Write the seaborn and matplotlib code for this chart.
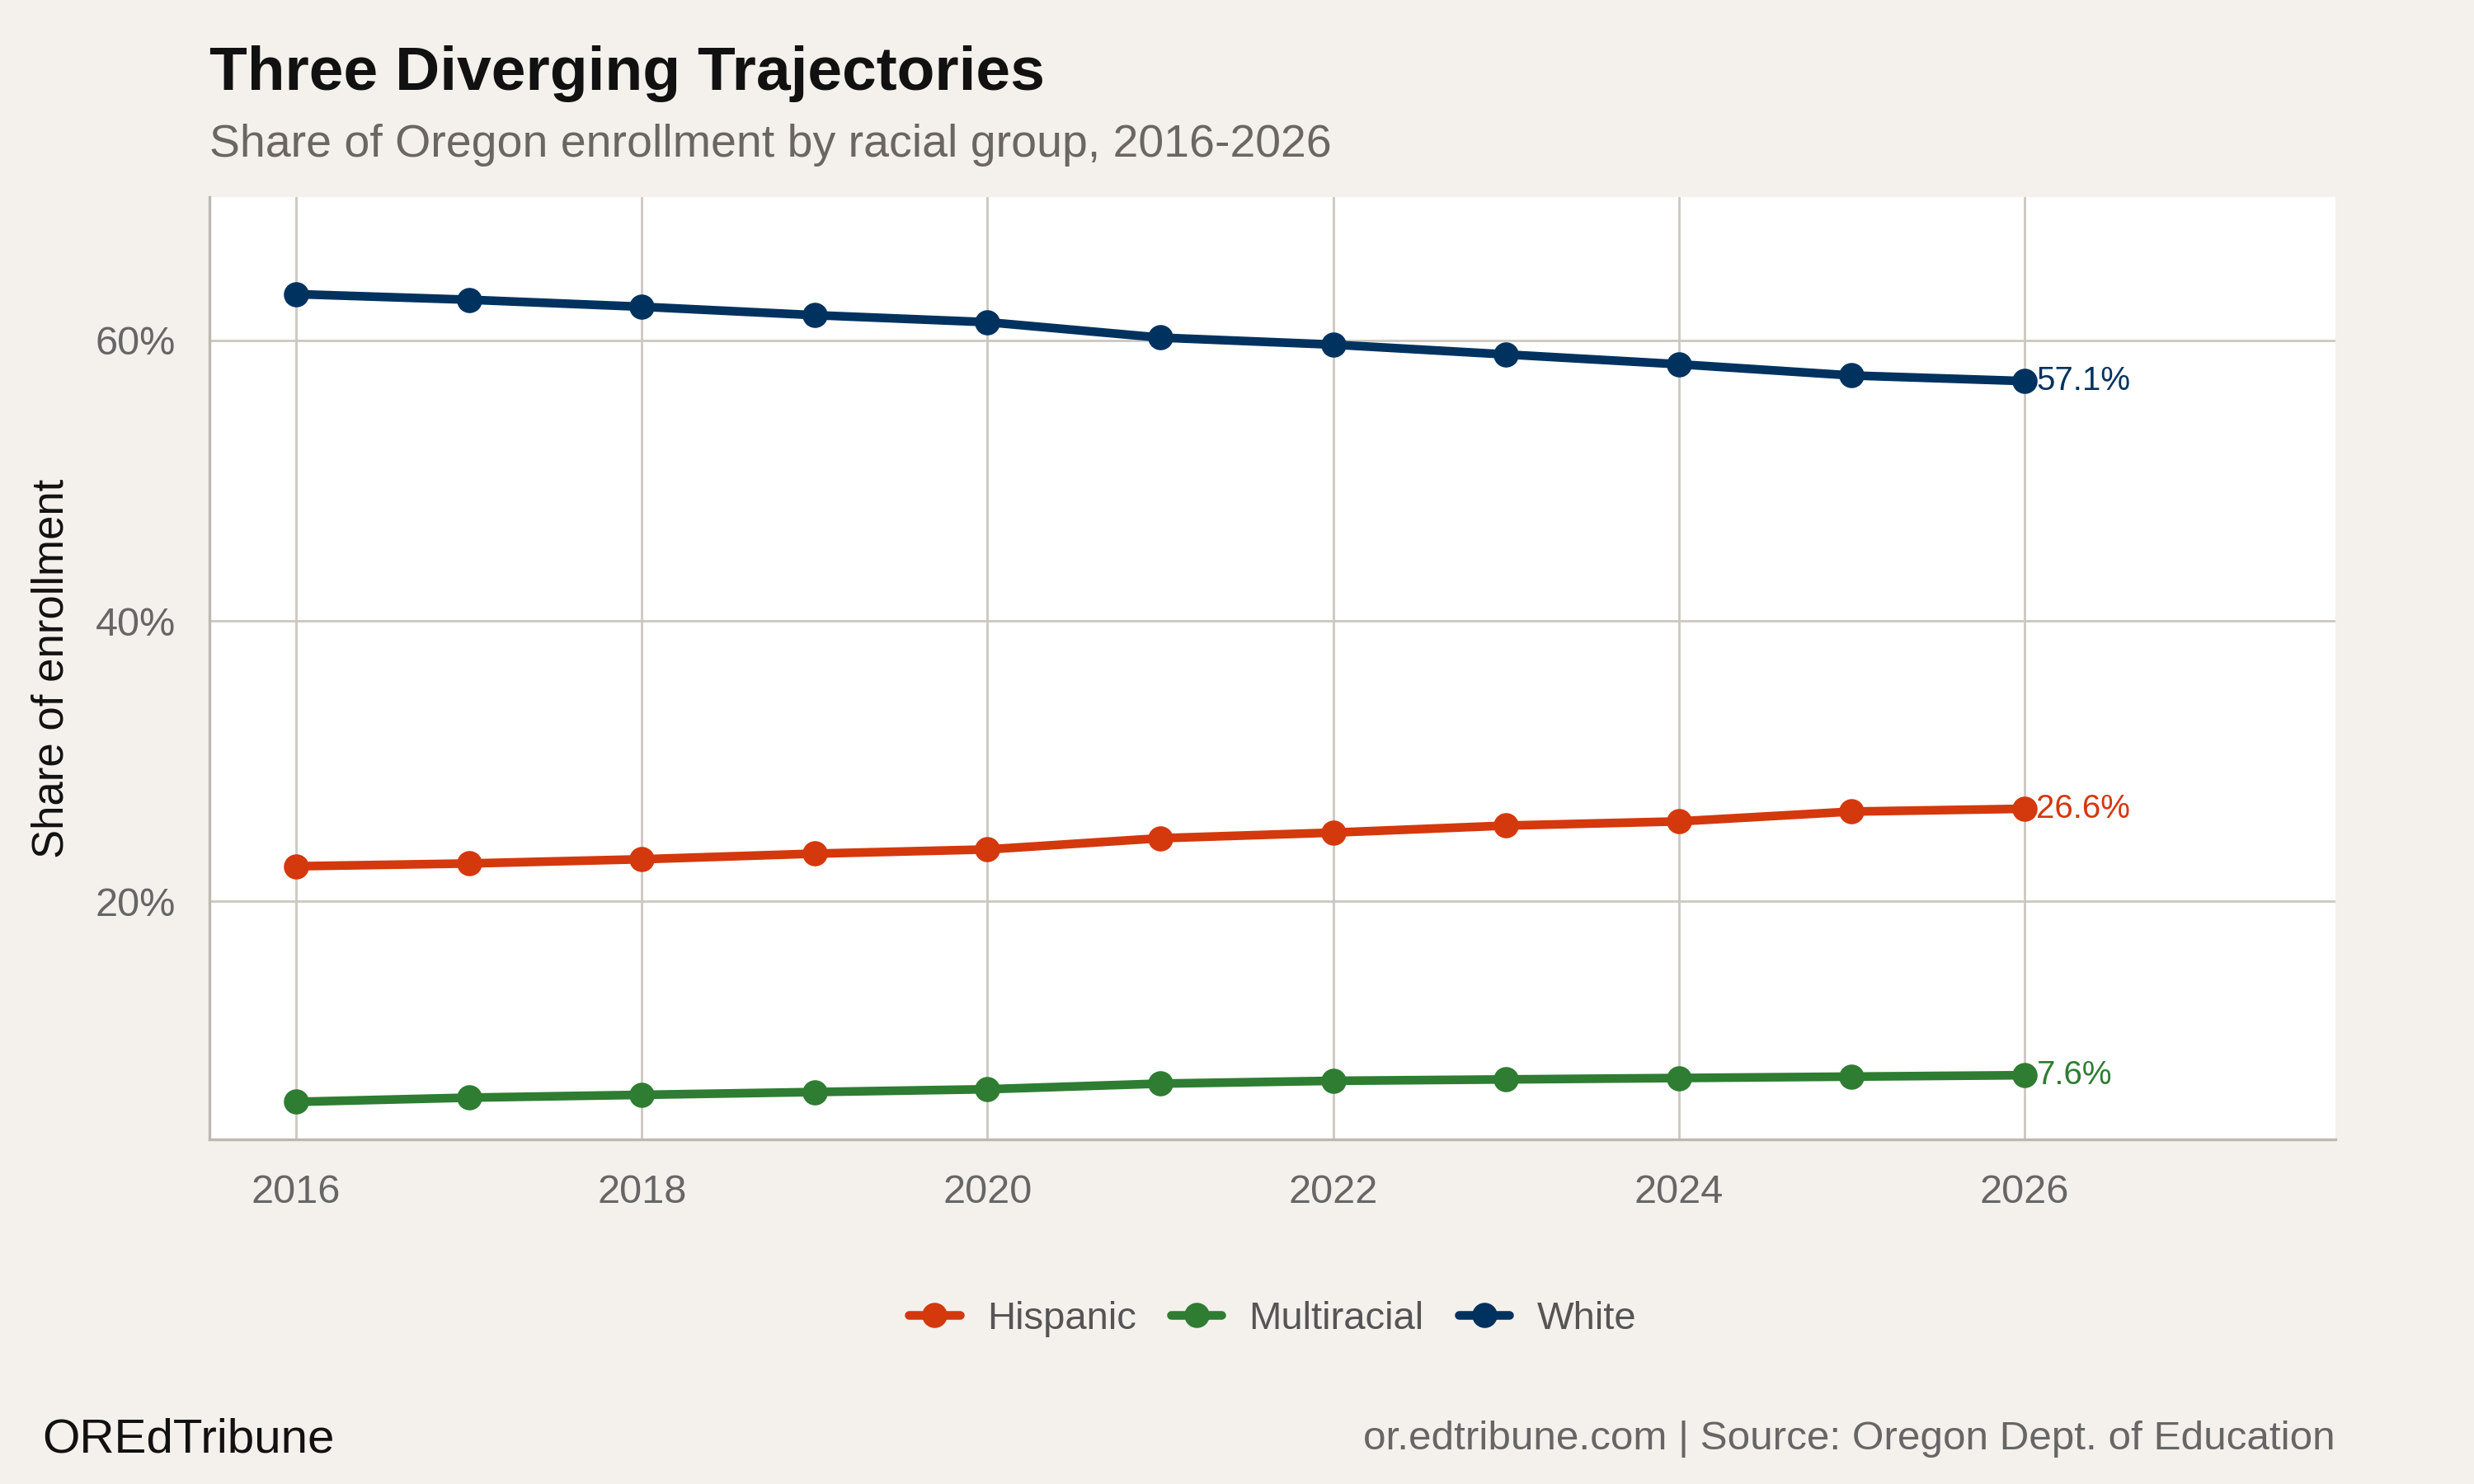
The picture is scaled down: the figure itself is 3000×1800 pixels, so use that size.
import matplotlib
matplotlib.use("Agg")
import matplotlib.pyplot as plt
import seaborn as sns
import pandas as pd
from matplotlib.ticker import FuncFormatter

# data (percent of enrollment)
anos = [2016, 2017, 2018, 2019, 2020, 2021, 2022, 2023, 2024, 2025, 2026]
white = [63.3, 62.9, 62.4, 61.8, 61.3, 60.2, 59.7, 59.0, 58.3, 57.5, 57.1]
hispanic = [22.5, 22.7, 23.0, 23.4, 23.7, 24.5, 24.9, 25.4, 25.7, 26.4, 26.6]
multiracial = [5.7, 6.0, 6.2, 6.4, 6.6, 7.0, 7.2, 7.3, 7.4, 7.5, 7.6]
grupos = ['Hispanic', 'Multiracial', 'White']
cores = {'Hispanic': '#D4380D', 'Multiracial': '#2E7D32', 'White': '#00325F'}

dados = pd.DataFrame({
    'ano': anos * 3,
    'share': hispanic + multiracial + white,
    'grupo': ['Hispanic'] * len(anos) + ['Multiracial'] * len(anos) + ['White'] * len(anos),
})

fundo = '#F4F1EC'
sns.set_style("white")
plt.rcParams['font.family'] = ['Liberation Sans', 'DejaVu Sans']

fig = plt.figure(figsize=(15, 9), dpi=200, facecolor=fundo)
ax = fig.add_axes([0.0848, 0.232, 0.8592, 0.635])
ax.set_facecolor('white')

sns.lineplot(data=dados, x='ano', y='share', hue='grupo', hue_order=grupos,
             palette=cores, marker='o', markersize=11, markeredgewidth=0,
             linewidth=3.8, ax=ax, zorder=3)

# rótulos no fim das linhas
for g, vals in zip(['Hispanic', 'Multiracial', 'White'], [hispanic, multiracial, white]):
    ax.text(anos[-1] + 0.07, vals[-1], f'{vals[-1]:.1f}%', color=cores[g],
            fontsize=14.5, va='center', ha='left')

ax.set_xlim(2015.5, 2027.8)
ax.set_ylim(3.0, 70.2)
ax.set_xticks([2016, 2018, 2020, 2022, 2024, 2026])
ax.set_yticks([20, 40, 60])
ax.yaxis.set_major_formatter(FuncFormatter(lambda v, p: f'{v:.0f}%'))
ax.grid(True, color='#CCC8C0', linewidth=1.0, zorder=0)
ax.set_axisbelow(True)
ax.tick_params(axis='both', length=0, labelsize=17.5, labelcolor='#666666')
ax.tick_params(axis='x', pad=15)
ax.tick_params(axis='y', pad=15)

for lado in ['top', 'right']:
    ax.spines[lado].set_visible(False)
for lado in ['left', 'bottom']:
    ax.spines[lado].set_color('#BDB8B0')
    ax.spines[lado].set_linewidth(1.2)

ax.set_xlabel('')
ax.set_ylabel('Share of enrollment', fontsize=19, color='#111111', labelpad=10)

leg = ax.legend(loc='center', bbox_to_anchor=(0.5, -0.19), ncol=3, frameon=False,
                fontsize=17, handlelength=1.3, columnspacing=0.9, handletextpad=0.7)
for t in leg.get_texts():
    t.set_color('#555555')
for h in leg.legend_handles:
    h.set_linewidth(3.8)
    h.set_markersize(11)

fig.text(0.0848, 0.950, 'Three Diverging Trajectories', fontsize=27, fontweight='bold',
         color='#111111', ha='left', va='center')
fig.text(0.0848, 0.902, 'Share of Oregon enrollment by racial group, 2016-2026',
         fontsize=20, color='#6B6661', ha='left', va='center')
fig.text(0.017, 0.030, 'OREdTribune', fontsize=21, color='#111111', ha='left', va='center')
fig.text(0.944, 0.030, 'or.edtribune.com | Source: Oregon Dept. of Education',
         fontsize=17.8, color='#666666', ha='right', va='center')

fig.savefig('out.png', dpi=200, facecolor=fundo)
